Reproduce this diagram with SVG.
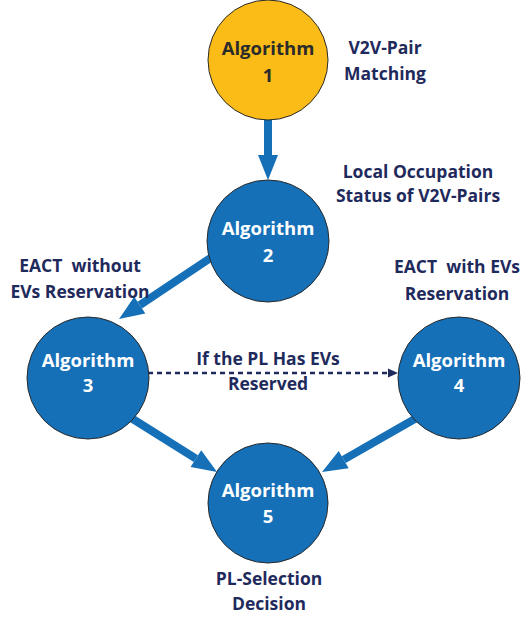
<svg xmlns="http://www.w3.org/2000/svg" width="524" height="619" viewBox="0 0 524 619">
<style>
.node{fill:#1570B8;stroke:#2a2a2a;stroke-width:1}
.y{fill:#FBBC18}
.nt{font-family:"Open Sans","Liberation Sans",sans-serif;font-weight:bold;font-size:18.5px;fill:#fff;text-anchor:middle}
.dk{fill:#2b2b2b}
.lb{font-family:"Open Sans","Liberation Sans",sans-serif;font-weight:bold;font-size:17.5px;fill:#1F2A5C;text-anchor:middle;white-space:pre}
.ar{stroke:#1570B8;stroke-width:8;fill:none}
.da{stroke:#1F2A5C;stroke-width:2.5;fill:none;stroke-dasharray:5 4}
</style>
<defs>
<marker id="ah" markerUnits="userSpaceOnUse" markerWidth="26" markerHeight="22" refX="0" refY="10" orient="auto" overflow="visible"><path d="M0,0 L25,10 L0,20 z" fill="#1570B8"/></marker>
<marker id="dh" markerUnits="userSpaceOnUse" markerWidth="11" markerHeight="10" refX="0" refY="4.5" orient="auto" overflow="visible"><path d="M0,0 L10,4.5 L0,9 z" fill="#1F2A5C"/></marker>
</defs>
<g id="connectors">
<line class="ar" x1="268" y1="118" x2="268" y2="155" marker-end="url(#ah)"/>
<line class="ar" x1="212" y1="257" x2="139.8" y2="305.1" marker-end="url(#ah)"/>
<line class="ar" x1="128" y1="416" x2="195.9" y2="458.6" marker-end="url(#ah)"/>
<line class="ar" x1="420" y1="416" x2="343.7" y2="459.6" marker-end="url(#ah)"/>
<line class="da" x1="148" y1="373" x2="388" y2="373" marker-end="url(#dh)"/>
</g>
<g id="node1">
<circle class="node y" cx="268" cy="60" r="60"/>
<text class="nt dk" x="268" y="55">Algorithm</text>
<text class="nt dk" x="268" y="82">1</text>
</g>
<g id="node2">
<circle class="node" cx="268" cy="241" r="61"/>
<text class="nt" x="268" y="235">Algorithm</text>
<text class="nt" x="268" y="262">2</text>
</g>
<g id="node3">
<circle class="node" cx="88" cy="378" r="61"/>
<text class="nt" x="88" y="367">Algorithm</text>
<text class="nt" x="88" y="392">3</text>
</g>
<g id="node4">
<circle class="node" cx="459" cy="378" r="61"/>
<text class="nt" x="459" y="367">Algorithm</text>
<text class="nt" x="459" y="392">4</text>
</g>
<g id="node5">
<circle class="node" cx="268" cy="503" r="60"/>
<text class="nt" x="268" y="497">Algorithm</text>
<text class="nt" x="268" y="523">5</text>
</g>
<g id="labels">
<text class="lb" x="385" y="54">V2V-Pair</text>
<text class="lb" x="385" y="80">Matching</text>
<text class="lb" x="418" y="178">Local Occupation</text>
<text class="lb" x="418" y="202">Status of V2V-Pairs</text>
<text class="lb" x="80" y="272" xml:space="preserve">EACT  without</text>
<text class="lb" x="80" y="298">EVs Reservation</text>
<text class="lb" x="457" y="273" xml:space="preserve">EACT  with EVs</text>
<text class="lb" x="457" y="300">Reservation</text>
<text class="lb" x="268" y="365">If the PL Has EVs</text>
<text class="lb" x="268" y="390">Reserved</text>
<text class="lb" x="269" y="585">PL-Selection</text>
<text class="lb" x="269" y="610">Decision</text>
</g>
</svg>
